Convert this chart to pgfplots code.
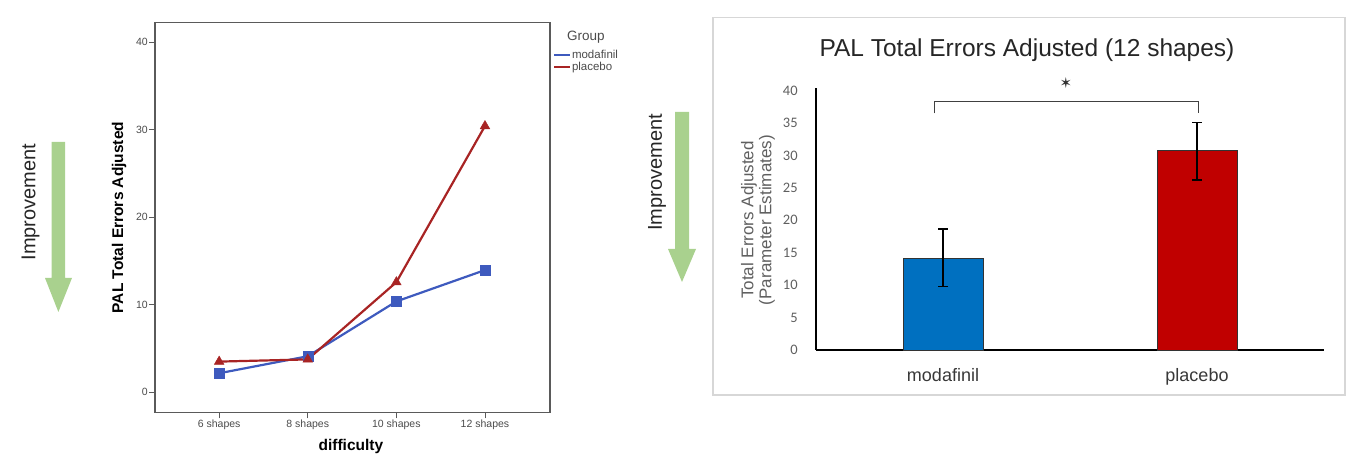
\documentclass[border=0pt]{standalone}
\usepackage{pgfplots}
\pgfplotsset{compat=1.18}
\usepackage{fontspec}
\setmainfont{Liberation Sans}
\newfontfamily\carlito{Carlito}
\newfontfamily\dejavu{DejaVu Sans}
\definecolor{lblue}{RGB}{62,90,190}
\definecolor{lred}{RGB}{168,36,36}
\definecolor{bblue}{RGB}{0,112,192}
\definecolor{bred}{RGB}{192,0,0}
\definecolor{agreen}{RGB}{169,209,142}
\definecolor{boxgray}{RGB}{90,90,90}
\definecolor{tgray}{RGB}{75,75,75}
\definecolor{rgray}{RGB}{95,95,95}
\definecolor{framegray}{RGB}{215,215,215}
\begin{document}
\begin{tikzpicture}[x=1pt,y=1pt]
\path[use as bounding box] (0,0) rectangle (1347,455);
% improvement arrows
\fill[agreen] (51.7,313) -- (65,313) -- (65,177) -- (72,177) -- (58.4,143) -- (45,177) -- (51.7,177) -- cycle;
\node[rotate=90, font=\fontsize{20}{24}\selectfont, text=black!85] at (30.5,253) {Improvement};
\fill[agreen] (675,343) -- (689,343) -- (689,206) -- (696,206) -- (682,173) -- (668,206) -- (675,206) -- cycle;
\node[rotate=90, font=\fontsize{20}{24}\selectfont, text=black!85] at (657,282.5) {Improvement};
% left chart
\begin{axis}[
  at={(155pt,42.7pt)}, anchor=south west, scale only axis,
  width=395pt, height=389.6pt,
  xmin=-0.724, xmax=3.734, ymin=-2.29, ymax=42.2,
  axis line style={boxgray, line width=1.1pt},
  tick pos=left, tick align=outside, major tick length=6pt,
  tick style={boxgray, line width=0.9pt},
  xtick={0,1,2,3}, xticklabels={6 shapes,8 shapes,10 shapes,12 shapes},
  ytick={0,10,20,30,40},
  ticklabel style={font=\fontsize{10.5}{11}\selectfont, text=tgray},
  yticklabel style={inner sep=1pt},
  xticklabel style={inner sep=1.5pt},
  /pgf/number format/assume math mode=true,
  ylabel={PAL Total Errors Adjusted},
  ylabel style={at={(axis description cs:-0.091,0.5)}, anchor=center, font=\bfseries\fontsize{15.5}{17}\selectfont},
  xlabel={difficulty},
  xlabel style={at={(axis description cs:0.496,-0.088)}, anchor=center, font=\bfseries\fontsize{15.5}{17}\selectfont},
  legend style={at={(axis description cs:1.0076,0.980)}, anchor=north west, draw=none, fill=none, inner sep=0pt,
    font=\fontsize{11.5}{12}\selectfont, text=tgray, nodes={inner sep=0.8pt}, row sep=1pt},
  legend cell align=left,
  legend image code/.code={\draw[#1, line width=2pt] (0pt,0pt) -- (16pt,0pt);},
]
\addlegendimage{empty legend}
\addlegendentry{\hspace*{-5pt}\raisebox{5pt}{\fontsize{13.5}{16}\selectfont Group}}
\addplot[lblue, line width=2.2pt, mark=square*, mark size=5pt, mark options={line width=0.5pt}]
  coordinates {(0,2.17)(1,4.11)(2,10.37)(3,13.95)};
\addlegendentry{modafinil}
\addplot[lred, line width=2.2pt, mark=triangle*, mark size=5.5pt, mark options={line width=0.5pt}]
  coordinates {(0,3.5)(1,3.75)(2,12.57)(3,30.4)};
\addlegendentry{placebo}
\end{axis}
% right chart
\draw[framegray, line width=1.5pt] (713,60) rectangle (1345,437.7);
\node[font=\fontsize{24.5}{27}\selectfont, text=black!85] at (1027,405) {PAL Total Errors Adjusted (12 shapes)};
\begin{axis}[
  at={(816pt,105pt)}, anchor=south west, scale only axis,
  width=508pt, height=262pt,
  xmin=-0.5, xmax=1.5, ymin=0, ymax=40.4,
  axis lines=left, axis line style={-, black, line width=1.4pt},
  xtick={0,1}, xticklabels={modafinil,placebo}, xtick style={draw=none},
  ytick={0,5,10,15,20,25,30,35,40}, ytick style={draw=none},
  xticklabel style={font=\fontsize{18}{20}\selectfont, text=black!78, anchor=base, yshift=-29.5pt},
  yticklabel style={font=\carlito\fontsize{14.5}{16}\selectfont, text=rgray, anchor=east, inner sep=0pt, xshift=-16pt},
  /pgf/number format/assume math mode=true,
  ylabel={Total Errors Adjusted\\(Parameter Estimates)},
  ylabel style={align=center, at={(axis description cs:-0.114,0.496)}, anchor=center, font=\fontsize{17}{18}\selectfont, text=rgray},
  clip=false,
]
\addplot[ybar, bar width=80pt, bar shift=0pt, fill=bblue, draw=black!80, line width=0.8pt,
  error bars/.cd, y dir=both, y explicit,
  error bar style={black, line width=1.3pt},
  error mark options={rotate=90, mark size=5pt, line width=1.3pt}]
  coordinates {(0,14.1) += (0,4.57) -= (0,4.33)};
\addplot[ybar, bar width=80pt, bar shift=0pt, fill=bred, draw=black!80, line width=0.8pt,
  error bars/.cd, y dir=both, y explicit,
  error bar style={black, line width=1.3pt},
  error mark options={rotate=90, mark size=5pt, line width=1.3pt}]
  coordinates {(1,30.85) += (0,4.25) -= (0,4.65)};
\addplot[black!75, line width=0.9pt] coordinates {(-0.033,36.5)(-0.033,38.3)(1.006,38.3)(1.006,36.5)};
\node[font=\dejavu\fontsize{15}{15}\selectfont, text=black!80] at (axis cs:0.484,41.2) {✶};
\end{axis}
\end{tikzpicture}
\end{document}
